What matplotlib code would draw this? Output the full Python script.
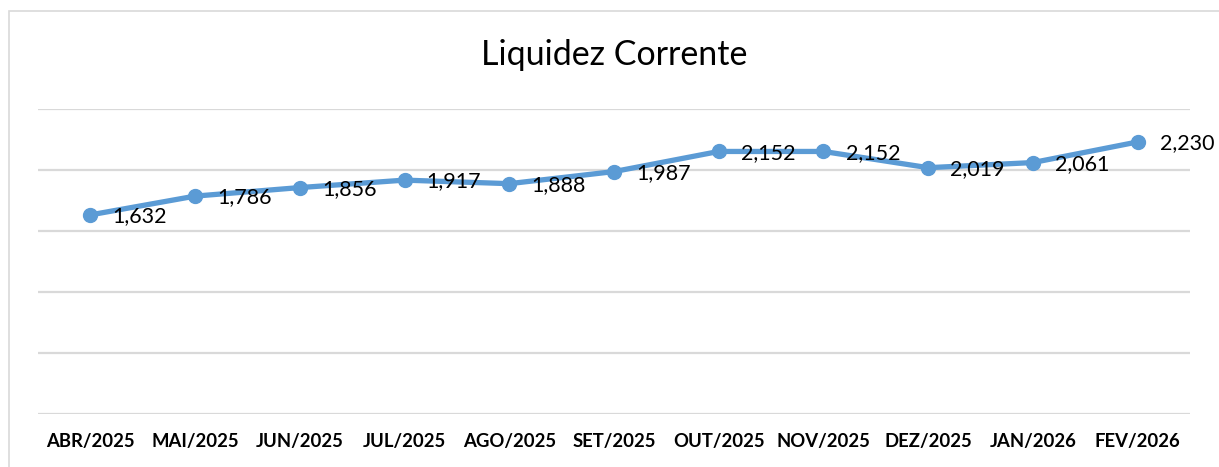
import matplotlib
matplotlib.use("Agg")
import matplotlib.pyplot as plt
from matplotlib.patches import Rectangle

categories = ["ABR/2025", "MAI/2025", "JUN/2025", "JUL/2025", "AGO/2025", "SET/2025",
              "OUT/2025", "NOV/2025", "DEZ/2025", "JAN/2026", "FEV/2026"]
values = [1.632, 1.786, 1.856, 1.917, 1.888, 1.987, 2.152, 2.152, 2.019, 2.061, 2.230]
labels = ["1,632", "1,786", "1,856", "1,917", "1,888", "1,987", "2,152", "2,152", "2,019", "2,061", "2,230"]
yticks = [0, 0.5, 1.0, 1.5, 2.0, 2.5]
title = "Liquidez Corrente"

plt.rcParams['font.family'] = ['Lato', 'DejaVu Sans']

W, H = 1219, 467
fig = plt.figure(figsize=(W / 100, H / 100), dpi=100)
fig.patch.set_facecolor("white")
fig.add_artist(Rectangle((8.5 / W, -0.2), 1.3, 1.2 - 10.5 / H, transform=fig.transFigure,
                         fill=False, edgecolor="#D9D9D9", linewidth=1.2))

ax = fig.add_axes([38 / W, 1 - 414 / H, (1190 - 38) / W, (414 - 109) / H])
x = list(range(len(categories)))
color = "#5B9BD5"
ax.plot(x, values, color=color, linewidth=3.8, marker="o", markersize=10,
        solid_capstyle="round", zorder=3, clip_on=False)
for xi, v, lab in zip(x, values, labels):
    ax.annotate(lab, (xi, v), xytext=(16, -1), textcoords="offset points",
                ha="left", va="center", fontsize=15.5, color="black", zorder=4)

ax.set_xlim(-0.5, len(categories) - 0.5)
ax.set_ylim(0, 2.5)
ax.set_yticks(yticks)
ax.yaxis.grid(True, color="#D9D9D9", linewidth=1.6)
ax.set_axisbelow(True)
ax.tick_params(axis="y", left=False, labelleft=False)
ax.set_xticks(x)
ax.set_xticklabels(categories, fontsize=13.3, fontweight="bold")
ax.tick_params(axis="x", length=0, pad=14)
for s in ax.spines.values():
    s.set_visible(False)

fig.text(614 / W, 1 - 55 / H, title, ha="center", va="center", fontsize=24.5)

fig.savefig("out.png", dpi=100, facecolor="white")
